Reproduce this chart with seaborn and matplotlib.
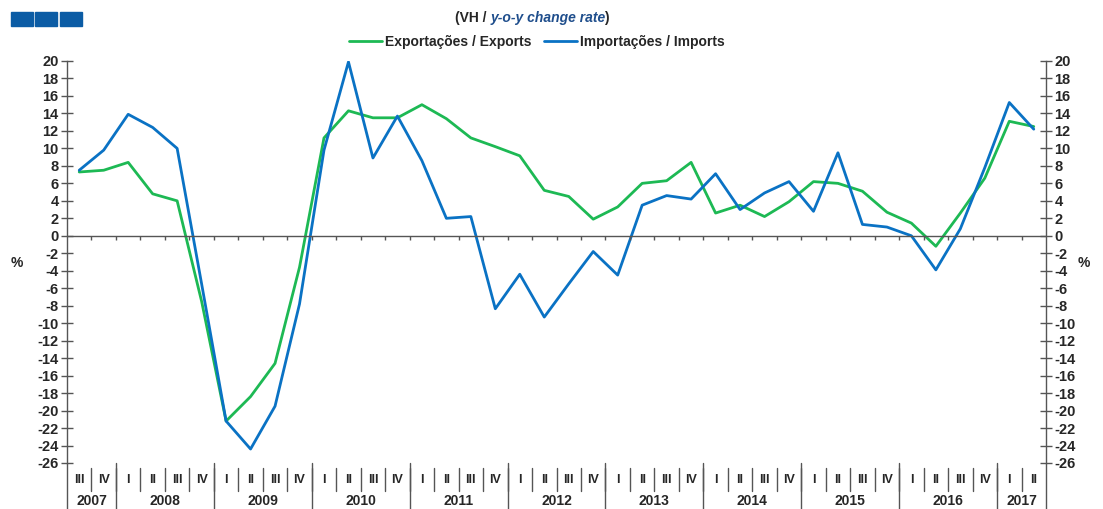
import matplotlib
matplotlib.use("Agg")
import matplotlib.pyplot as plt
from matplotlib.patches import Rectangle
from matplotlib.lines import Line2D
import seaborn as sns
import pandas as pd

# quarters 2007 III .. 2017 II
quarter_labels = ["III", "IV",
                  "I", "II", "III", "IV", "I", "II", "III", "IV",
                  "I", "II", "III", "IV", "I", "II", "III", "IV",
                  "I", "II", "III", "IV", "I", "II", "III", "IV",
                  "I", "II", "III", "IV", "I", "II", "III", "IV",
                  "I", "II", "III", "IV",
                  "I", "II"]
years = ["2007", "2008", "2009", "2010", "2011", "2012",
         "2013", "2014", "2015", "2016", "2017"]
quarters_per_year = [2, 4, 4, 4, 4, 4, 4, 4, 4, 4, 2]

exports = [7.3, 7.5, 8.4, 4.8, 4.0, -7.5,
           -21.2, -18.4, -14.6, -3.6,
           11.2, 14.3, 13.5, 13.5,
           15.0, 13.4, 11.2, 10.2,
           9.15, 5.2, 4.5, 1.9,
           3.3, 6.0, 6.3, 8.4,
           2.6, 3.5, 2.2, 3.9,
           6.2, 6.0, 5.1, 2.7,
           1.45, -1.2, 2.6, 6.6,
           13.1, 12.5]
imports = [7.5, 9.8, 13.9, 12.4, 10.0, -5.5,
           -21.2, -24.4, -19.5, -7.8,
           9.8, 19.9, 8.9, 13.7,
           8.6, 2.0, 2.2, -8.35,
           -4.4, -9.3, -5.5, -1.8,
           -4.5, 3.5, 4.6, 4.2,
           7.1, 3.0, 4.9, 6.2,
           2.8, 9.5, 1.3, 1.0,
           0.0, -3.9, 0.8, 7.8,
           15.25, 12.2]

GREEN = "#1DB954"
BLUE = "#0A72C4"
NAVY = "#0B5CA5"

sns.set_theme(style="white")
plt.rcParams["font.family"] = ["Liberation Sans", "DejaVu Sans"]
plt.rcParams["font.weight"] = "bold"
plt.rcParams["axes.unicode_minus"] = False

W, H = 1103, 509
fig = plt.figure(figsize=(W / 100, H / 100), dpi=100)
ax = fig.add_axes([67 / W, 46 / H, (1046 - 67) / W, (463 - 61) / H])

n = len(exports)
df = pd.DataFrame({"pos": list(range(n)), "exp": exports, "imp": imports})
sns.lineplot(data=df, x="pos", y="exp", ax=ax, color=GREEN, lw=2.0)
sns.lineplot(data=df, x="pos", y="imp", ax=ax, color=BLUE, lw=2.0)

ax.set_xlim(-0.5, n - 0.5)
ax.set_ylim(-26, 20)
ax.set_xlabel("")
ax.set_ylabel("")
ax.set_yticks(range(-26, 21, 2))
ax.set_xticks([])
ax.tick_params(axis="y", direction="inout", length=8, width=1, color="#555555",
               labelsize=10.5, left=True, right=True, labelleft=True, labelright=True, pad=2)
for lab in ax.get_yticklabels():
    lab.set_fontweight("bold")
for s in ["top", "bottom"]:
    ax.spines[s].set_visible(False)
for s in ["left", "right"]:
    ax.spines[s].set_color("#555555")
    ax.spines[s].set_linewidth(1)

# zero line with small quarter ticks
ax.axhline(0, color="#555555", lw=1)
bounds = [k + 0.5 for k in range(n - 1)]
ax.vlines(bounds, -0.45, 0, color="#555555", lw=1)

# category table below the plot
tr = ax.get_xaxis_transform()
for i, q in enumerate(quarter_labels):
    ax.text(i, -0.043, q, transform=tr, ha="center", va="center",
            fontsize=9, fontweight="bold")
for b in bounds:
    ax.plot([b, b], [-0.012, -0.07], transform=tr, color="#555555", lw=1, clip_on=False)
start = 0
year_edges = [-0.5]
for y, cnt in zip(years, quarters_per_year):
    centre = start + (cnt - 1) / 2
    ax.text(centre, -0.095, y, transform=tr, ha="center", va="center",
            fontsize=10, fontweight="bold")
    start += cnt
    year_edges.append(start - 0.5)
for e in year_edges:
    ax.plot([e, e], [0, -0.115], transform=tr, color="#555555", lw=1, clip_on=False)

# % labels
fig.text(17 / W, 1 - 263 / H, "%", ha="center", va="center", fontsize=10, fontweight="bold")
fig.text(1084 / W, 1 - 263 / H, "%", ha="center", va="center", fontsize=10, fontweight="bold")

# title with mixed styling
t1 = fig.text(455 / W, 1 - 25 / H, "(VH / ", ha="left", va="bottom",
              fontsize=10, fontweight="bold")
t2 = ax.annotate("y-o-y change rate", xy=(1, 0), xycoords=t1, ha="left", va="bottom",
                 fontsize=10, fontweight="bold", fontstyle="italic", color="#1F4E8C")
ax.annotate(")", xy=(1, 0), xycoords=t2, xytext=(-1, 0), textcoords="offset points",
            ha="left", va="bottom", fontsize=10, fontweight="bold")

# legend
handles = [Line2D([], [], color=GREEN, lw=2), Line2D([], [], color=BLUE, lw=2)]
fig.legend(handles, ["Exportações / Exports", "Importações / Imports"],
           loc="center", bbox_to_anchor=(537 / W, 1 - 42 / H), ncol=2, frameon=False,
           prop={"size": 10, "weight": "bold"}, handlelength=2.4, columnspacing=0.9,
           handletextpad=0.2)

# logo squares
for x0 in [11, 35, 60]:
    fig.patches.append(Rectangle((x0 / W, 1 - 26 / H), 22 / W, 14 / H,
                                 transform=fig.transFigure, color=NAVY))

fig.savefig("out.png", dpi=100)
